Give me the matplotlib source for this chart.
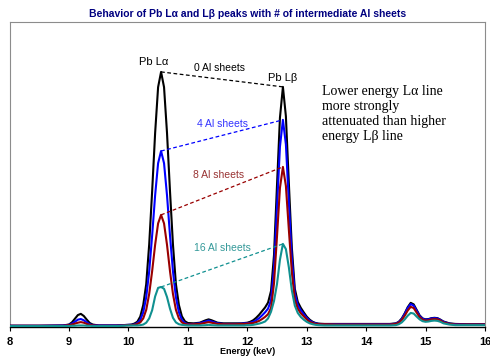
import numpy as np
import matplotlib
matplotlib.use('Agg')
import matplotlib.pyplot as plt

plt.rcParams['font.family'] = ['Liberation Sans', 'DejaVu Sans']

# Pb L-line spectra after passing through 0, 4, 8 and 16 Al sheets
energy_kev = [8.0, 8.5, 8.9, 9.0, 9.05, 9.1, 9.15, 9.2, 9.25, 9.3, 9.35, 9.4, 9.5, 9.8,
              10.0, 10.05, 10.1, 10.15, 10.2, 10.25, 10.3, 10.35, 10.4, 10.45, 10.5,
              10.55, 10.6, 10.65, 10.7, 10.75, 10.8, 10.85, 10.9, 10.95, 11.0,
              11.1, 11.2, 11.3, 11.35, 11.4, 11.5, 11.6, 11.7, 11.8,
              11.9, 11.95, 12.0, 12.05, 12.1, 12.15, 12.2, 12.25, 12.3, 12.35, 12.4,
              12.45, 12.5, 12.55, 12.6, 12.65, 12.7, 12.75, 12.8, 12.85, 12.9, 12.95,
              13.0, 13.05, 13.1, 13.15, 13.2, 13.3, 13.5,
              14.0, 14.4, 14.5, 14.55, 14.6, 14.65, 14.7, 14.75, 14.8, 14.85, 14.9,
              14.95, 15.0, 15.05, 15.1, 15.15, 15.2, 15.25, 15.3, 15.4, 15.5, 15.7, 16.0]

counts_0 = [4, 4, 5, 8, 15, 27, 39, 43, 36, 24, 13, 8, 5, 5,
            7, 8, 11, 17, 34, 72, 140, 270, 445, 635, 785, 835, 785, 635, 445, 270, 140, 72, 35, 19, 13,
            12, 14, 22, 25, 22, 14, 12, 12, 12,
            12, 13, 14, 17, 22, 30, 40, 52, 64, 80, 118, 235, 462, 685, 786, 690, 470, 260, 125, 82,
            63, 48, 34, 24, 17, 13, 11, 10, 10,
            10, 10, 12, 17, 28, 45, 65, 79, 74, 56, 38, 28, 25, 26, 29, 30, 29, 24, 18, 12, 10, 9, 9]

counts_4 = [4, 4, 5, 7, 11, 17, 24, 26, 22, 15, 9, 6, 5, 5,
            7, 7, 8, 13, 23, 48, 97, 182, 300, 431, 536, 576, 536, 431, 300, 182, 97, 48, 23, 13, 9,
            10, 12, 18, 21, 18, 12, 10, 10, 10,
            11, 12, 12, 14, 17, 22, 29, 38, 48, 60, 88, 192, 390, 590, 678, 598, 408, 225, 110, 72,
            55, 42, 30, 21, 15, 12, 10, 9, 9,
            9, 9, 11, 16, 26, 43, 62, 75, 70, 53, 36, 27, 24, 25, 28, 29, 28, 23, 17, 11, 9, 8, 8]

counts_8 = [4, 4, 4, 6, 8, 11, 14, 16, 14, 10, 7, 5, 4, 4,
            6, 6, 7, 10, 15, 28, 56, 108, 183, 269, 339, 367, 339, 269, 183, 108, 56, 28, 15, 10, 8,
            9, 10, 14, 16, 14, 10, 9, 9, 9,
            10, 10, 11, 12, 13, 16, 20, 26, 33, 42, 62, 143, 295, 455, 524, 462, 318, 180, 90, 60,
            45, 35, 25, 17, 13, 10, 9, 9, 8,
            8, 8, 10, 14, 23, 37, 54, 66, 62, 47, 32, 24, 21, 22, 25, 26, 25, 21, 15, 10, 8, 8, 8]

counts_16 = [3, 3, 3, 3, 4, 4, 5, 5, 5, 4, 4, 3, 3, 3,
             5, 5, 5, 5, 6, 8, 14, 28, 55, 100, 128, 131, 125, 98, 60, 30, 15, 9, 7, 6, 5,
             5, 5, 6, 7, 6, 5, 5, 5, 5,
             5, 5, 6, 6, 7, 9, 11, 14, 18, 28, 50, 85, 140, 220, 272, 255, 195, 120, 70, 46,
             33, 24, 17, 12, 9, 7, 6, 5, 5,
             5, 5, 6, 9, 15, 25, 37, 46, 44, 34, 25, 19, 17, 18, 20, 21, 20, 17, 12, 8, 6, 6, 6]

series = [
    ('0 Al sheets', counts_0, 'black', 'black', (11.54, 848)),
    ('4 Al sheets', counts_4, '#0000ff', '#3333ff', (11.58, 664)),
    ('8 Al sheets', counts_8, '#990000', '#993333', (11.51, 497)),
    ('16 Al sheets', counts_16, '#109090', '#339999', (11.58, 259)),
]

e = np.array(energy_kev)
la_win = (e > 10.3) & (e < 10.8)
lb_win = (e > 12.4) & (e < 12.8)

fig = plt.figure(figsize=(4.9, 3.56), dpi=100)
ax = fig.add_axes([0.0194, 0.0815, 0.9704, 0.8581])

for name, c, col, txtcol, pos in series:
    c = np.array(c)
    ax.plot(e, c, color=col, lw=1.5, zorder=3)

for name, c, col, txtcol, pos in series:
    c = np.array(c)
    # dashed line joining the La and Lb peak tops
    i_a = np.where(la_win)[0][np.argmax(c[la_win])]
    i_b = np.where(lb_win)[0][np.argmax(c[lb_win])]
    ax.plot([e[i_a], e[i_b]], [c[i_a], c[i_b]], color=col, lw=0.9,
            dashes=(3, 2), zorder=4)
    ax.text(pos[0], pos[1], name, color=txtcol, fontsize=7.5, ha='center', va='center')

ax.text(10.42, 867, 'Pb Lα', fontsize=8, ha='center', va='center')
ax.text(12.6, 815, 'Pb Lβ', fontsize=8, ha='center', va='center')
ax.text(13.26, 792, 'Lower energy Lα line\nmore strongly\nattenuated than higher\nenergy Lβ line',
        family=['Liberation Serif', 'DejaVu Serif'], fontsize=10, ha='left', va='top',
        linespacing=1.2)

ax.set_xlim(8, 16)
ax.set_ylim(0, 1000)
ax.set_xticks(range(8, 17))
ax.set_yticks([])
ax.tick_params(axis='x', direction='out', length=3, width=0.8, pad=4, labelsize=8)
for lab in ax.get_xticklabels():
    lab.set_fontweight('bold')
for s in ['left', 'top', 'right']:
    ax.spines[s].set_color('#8c8c8c')
    ax.spines[s].set_linewidth(0.8)
ax.spines['bottom'].set_color('black')
ax.spines['bottom'].set_linewidth(1.0)

ax.set_xlabel('Energy (keV)', fontsize=6.5, fontweight='bold', labelpad=0)
ax.set_title('Behavior of Pb Lα and Lβ peaks with # of intermediate Al sheets',
             fontsize=7.5, fontweight='bold', color='#000080', pad=3)

fig.savefig('out.png', dpi=100)
